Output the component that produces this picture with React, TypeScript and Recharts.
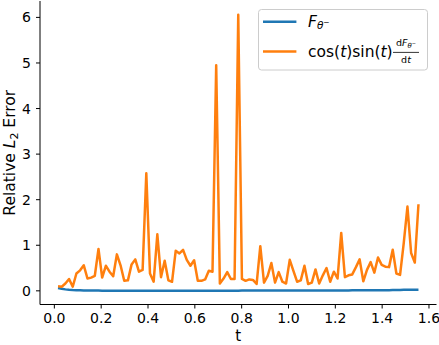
import React from "react";
import { LineChart, Line, XAxis, YAxis, Legend } from "recharts";

// t sample points (k * pi/200, k = 1..99)
const tValues = [
  0.0157, 0.0314, 0.0471, 0.0628, 0.0785, 0.0942, 0.11, 0.1257, 0.1414, 0.1571,
  0.1728, 0.1885, 0.2042, 0.2199, 0.2356, 0.2513, 0.267, 0.2827, 0.2985, 0.3142,
  0.3299, 0.3456, 0.3613, 0.377, 0.3927, 0.4084, 0.4241, 0.4398, 0.4555, 0.4712,
  0.4869, 0.5027, 0.5184, 0.5341, 0.5498, 0.5655, 0.5812, 0.5969, 0.6126, 0.6283,
  0.644, 0.6597, 0.6754, 0.6912, 0.7069, 0.7226, 0.7383, 0.754, 0.7697, 0.7854,
  0.8011, 0.8168, 0.8325, 0.8482, 0.8639, 0.8796, 0.8954, 0.9111, 0.9268, 0.9425,
  0.9582, 0.9739, 0.9896, 1.0053, 1.021, 1.0367, 1.0524, 1.0681, 1.0838, 1.0996,
  1.1153, 1.131, 1.1467, 1.1624, 1.1781, 1.1938, 1.2095, 1.2252, 1.2409, 1.2566,
  1.2723, 1.2881, 1.3038, 1.3195, 1.3352, 1.3509, 1.3666, 1.3823, 1.398, 1.4137,
  1.4294, 1.4451, 1.4608, 1.4765, 1.4923, 1.508, 1.5237, 1.5394, 1.5551,
];

const fThetaErr = [
  0.06, 0.045, 0.032, 0.023, 0.017, 0.013, 0.01, 0.008, 0.007, 0.006,
  0.005, 0.005, 0.004, 0.004, 0.004, 0.004, 0.004, 0.004, 0.004, 0.004,
  0.004, 0.004, 0.004, 0.004, 0.004, 0.004, 0.004, 0.004, 0.004, 0.004,
  0.004, 0.004, 0.004, 0.004, 0.004, 0.004, 0.004, 0.004, 0.004, 0.004,
  0.004, 0.004, 0.004, 0.004, 0.004, 0.004, 0.004, 0.004, 0.004, 0.004,
  0.005, 0.005, 0.005, 0.005, 0.005, 0.005, 0.005, 0.005, 0.005, 0.005,
  0.006, 0.006, 0.006, 0.006, 0.006, 0.006, 0.006, 0.006, 0.006, 0.006,
  0.008, 0.008, 0.008, 0.008, 0.008, 0.008, 0.008, 0.008, 0.008, 0.008,
  0.01, 0.01, 0.01, 0.01, 0.01, 0.01, 0.01, 0.01, 0.012, 0.014,
  0.015, 0.017, 0.018, 0.02, 0.021, 0.022, 0.023, 0.024, 0.025,
];

const derivErr = [
  0.1, 0.09, 0.16, 0.26, 0.09, 0.38, 0.45, 0.56, 0.27, 0.29,
  0.33, 0.92, 0.29, 0.55, 0.42, 0.32, 0.8, 0.56, 0.22, 0.23,
  0.58, 0.69, 0.42, 0.46, 2.58, 0.38, 0.2, 1.24, 0.3, 0.66,
  0.23, 0.2, 0.88, 0.82, 0.9, 0.68, 0.55, 0.67, 0.22, 0.22,
  0.25, 0.44, 0.42, 4.95, 0.16, 0.27, 0.41, 0.26, 0.26, 6.06,
  0.26, 0.22, 0.25, 0.24, 0.15, 0.98, 0.18, 0.33, 0.61, 0.18,
  0.41, 0.2, 0.16, 0.68, 0.44, 0.2, 0.23, 0.55, 0.15, 0.18,
  0.47, 0.16, 0.34, 0.5, 0.2, 0.42, 0.27, 1.27, 0.3, 0.34,
  0.36, 0.52, 0.69, 0.21, 0.46, 0.63, 0.4, 0.73, 0.57, 0.53,
  0.52, 0.9, 0.38, 0.35, 1.05, 1.85, 0.83, 0.62, 1.9,
];

const xTicks = [0, 0.2, 0.4, 0.6, 0.8, 1.0, 1.2, 1.4, 1.6];
const yTicks = [0, 1, 2, 3, 4, 5, 6];

const data = tValues.map((t, i) => ({ t, f: fThetaErr[i], d: derivErr[i] }));

const FONT = "'DejaVu Sans', sans-serif";
const BLUE = "#1f77b4";
const ORANGE = "#ff7f0e";

function MathLegend() {
  return (
    <svg width={171} height={62} style={{ display: "block" }} fontFamily={FONT}>
      <rect x={0.5} y={0.5} width={169} height={60.5} rx={3} fill="#fff" fillOpacity={0.8} stroke="#cccccc" strokeWidth={1} />
      <line x1={5} x2={38.4} y1={12.7} y2={12.7} stroke={BLUE} strokeWidth={2.5} />
      <text x={50} y={17.6} fontSize={15.5} fill="#000">
        <tspan fontStyle="italic">F</tspan>
        <tspan fontSize={10.5} fontStyle="italic" dy={2.8}>θ</tspan>
        <tspan fontSize={7.5} dy={-4}>−</tspan>
      </text>
      <line x1={5} x2={38.4} y1={42.4} y2={42.4} stroke={ORANGE} strokeWidth={2.5} />
      <text x={50} y={47.6} fontSize={15.5} fill="#000">
        cos(<tspan fontStyle="italic">t</tspan>)sin(<tspan fontStyle="italic">t</tspan>)
      </text>
      <text x={148} y={36.7} fontSize={9.5} fill="#000" textAnchor="middle">
        d<tspan fontStyle="italic">F</tspan>
        <tspan fontSize={7} fontStyle="italic" dy={1.8}>θ</tspan>
        <tspan fontSize={5} dy={-2.6}>−</tspan>
      </text>
      <line x1={135} x2={161} y1={43.4} y2={43.4} stroke="#000" strokeWidth={0.8} />
      <text x={148} y={53.7} fontSize={9.5} fill="#000" textAnchor="middle">
        d<tspan fontStyle="italic">t</tspan>
      </text>
    </svg>
  );
}

function YLabel(props: any) {
  const vb = props.viewBox || { x: 0, y: 1, width: 40, height: 303.5 };
  const x = vb.x + 14.5;
  const y = vb.y + vb.height / 2;
  return (
    <text x={x} y={y} transform={`rotate(-90 ${x} ${y})`} textAnchor="middle" fontSize={15.5} fontFamily={FONT} fill="#000">
      Relative{" "}
      <tspan fontStyle="italic">L</tspan>
      <tspan fontSize={11} dy={3}>2</tspan>
      <tspan dy={-3}> Error</tspan>
    </text>
  );
}

export default function App() {
  const axisStyle = { stroke: "#000", strokeWidth: 1 };
  const tickStyle = { fontSize: 14, fill: "#000", fontFamily: FONT };
  return (
    <div style={{ position: "absolute", left: 0, top: 0, width: 439, height: 345 }}>
      <LineChart
        width={439}
        height={345}
        data={data}
        margin={{ top: 1, right: 2.5, left: 0, bottom: 0.5 }}
        style={{ fontFamily: FONT }}
      >
        <XAxis
          dataKey="t"
          type="number"
          domain={[-0.0613, 1.6321]}
          allowDataOverflow
          ticks={xTicks}
          interval={0}
          tickFormatter={(v: number) => v.toFixed(1)}
          height={40}
          tickSize={4}
          tickMargin={5}
          axisLine={axisStyle}
          tickLine={axisStyle}
          tick={tickStyle}
          label={{ value: "t", position: "insideBottom", offset: 3.5, fontSize: 15, fill: "#000", fontFamily: FONT }}
        />
        <YAxis
          type="number"
          domain={[-0.3, 6.36]}
          allowDataOverflow
          ticks={yTicks}
          interval={0}
          width={40}
          tickSize={4}
          tickMargin={5}
          axisLine={axisStyle}
          tickLine={axisStyle}
          tick={tickStyle}
          label={(p: any) => <YLabel {...p} />}
        />
        <Legend
          layout="vertical"
          verticalAlign="middle"
          align="center"
          content={() => <MathLegend />}
          wrapperStyle={{ left: 258, top: 9, width: 171 }}
        />
        <Line
          type="linear"
          dataKey="f"
          stroke={BLUE}
          strokeWidth={2.5}
          strokeLinejoin="round"
          dot={false}
          isAnimationActive={false}
        />
        <Line
          type="linear"
          dataKey="d"
          stroke={ORANGE}
          strokeWidth={2.5}
          strokeLinejoin="round"
          dot={false}
          isAnimationActive={false}
        />
      </LineChart>
    </div>
  );
}
